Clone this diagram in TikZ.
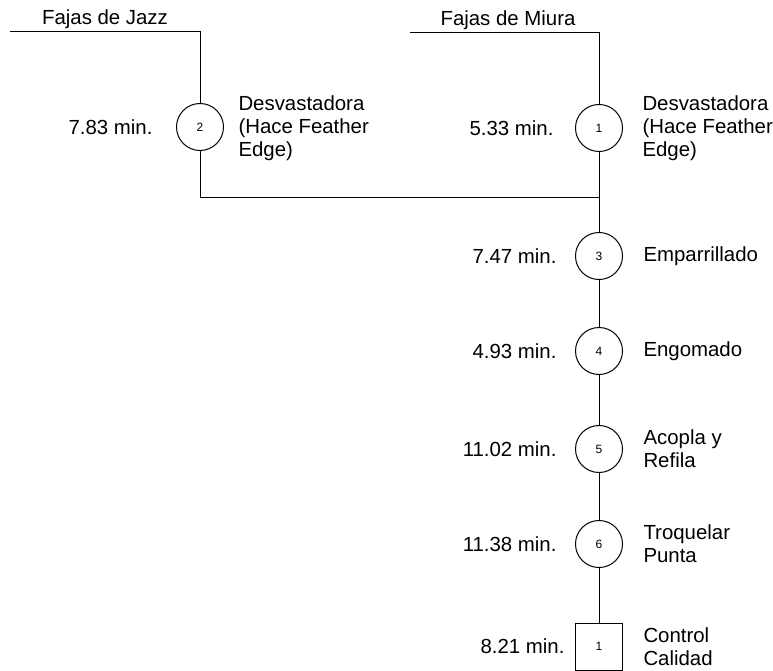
\documentclass[tikz,border=0pt]{standalone}
\usepackage{fontspec}
\setmainfont{Liberation Sans}
\begin{document}
\begin{tikzpicture}[x=1pt,y=-1pt,line width=1pt,
  op/.style={draw,circle,minimum size=47pt,inner sep=0pt,font=\fontsize{12}{14}\selectfont},
  insp/.style={draw,rectangle,minimum size=47pt,inner sep=0pt,font=\fontsize{12}{14}\selectfont},
  lbl/.style={inner sep=0pt,font=\fontsize{20.4}{23}\selectfont,align=left},
  tm/.style={lbl,anchor=east},
  desc/.style={lbl,anchor=west}]
\useasboundingbox (0,0) rectangle (773,671);

% raw material inputs
\node[lbl] (jazz) at (105,19) {Fajas de Jazz};
\node[lbl] (miura) at (508,20) {Fajas de Miura};
\coordinate (jazzin) at (10,31.5);
\coordinate (jazzcorner) at (200,31.5);
\coordinate (miurain) at (410,33);
\coordinate (miuracorner) at (599,33);

% operations
\node[op] (o2) at (200,127) {2};
\node[op] (o1) at (599,128) {1};
\node[op] (o3) at (599,256) {3};
\node[op] (o4) at (599,351) {4};
\node[op] (o5) at (599,449) {5};
\node[op] (o6) at (599,544) {6};
\node[insp] (i1) at (599,646.5) {1};

% times
\node[tm] (t2) at (153,127) {7.83 min.};
\node[tm] (t1) at (554,128) {5.33 min.};
\node[tm] (t3) at (557,256) {7.47 min.};
\node[tm] (t4) at (557,351) {4.93 min.};
\node[tm] (t5) at (557,449) {11.02 min.};
\node[tm] (t6) at (557,544) {11.38 min.};
\node[tm] (ti) at (565,646.5) {8.21 min.};

% descriptions
\node[desc] (d2) at (238,128) {Desvastadora\\(Hace Feather\\Edge)};
\node[desc] (d1) at (642,128) {Desvastadora\\(Hace Feather\\Edge)};
\node[desc] (d3) at (643,256) {Emparrillado};
\node[desc] (d4) at (643,351) {Engomado};
\node[desc] (d5) at (643,449) {Acopla y\\Refila};
\node[desc] (d6) at (643,544) {Troquelar\\Punta};
\node[desc] (di) at (643,646.5) {Control\\Calidad};

% flow lines
\coordinate (join) at (599,197.5);
\draw (jazzin) -- (jazzcorner) -- (o2.north);
\draw (miurain) -- (miuracorner) -- (o1.north);
\draw (o2.south) |- (join);
\draw (o1.south) -- (o3.north);
\draw (o3.south) -- (o4.north);
\draw (o4.south) -- (o5.north);
\draw (o5.south) -- (o6.north);
\draw (o6.south) -- (i1.north);
\end{tikzpicture}
\end{document}
